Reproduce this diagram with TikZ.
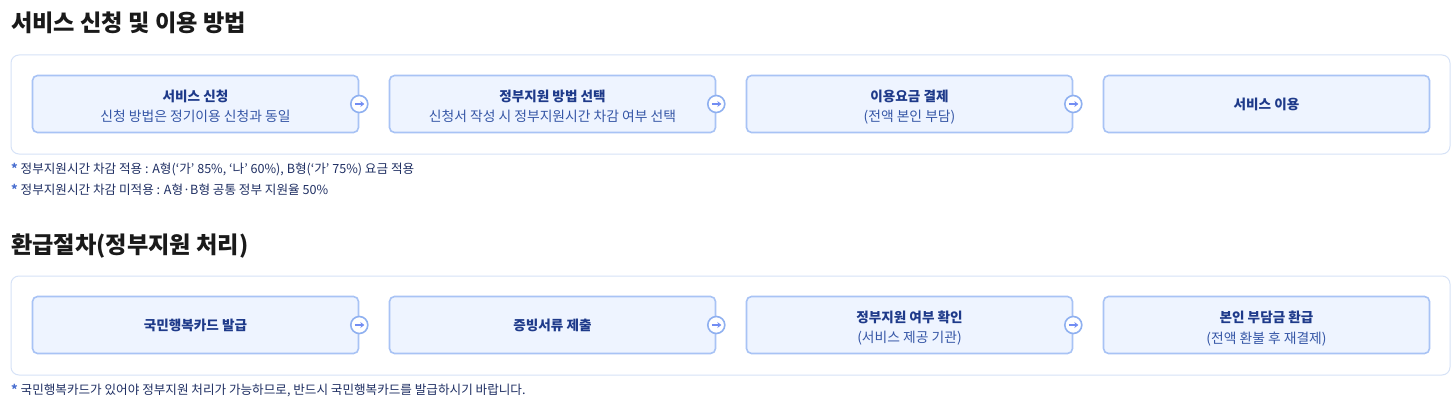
\documentclass[tikz,border=0pt]{standalone}
\usepackage{fontspec}
\setmainfont{Noto Sans CJK KR}
\usetikzlibrary{arrows.meta}
\definecolor{titlec}{HTML}{1A1A1A}
\definecolor{outerc}{HTML}{D6E2F7}
\definecolor{boxfill}{HTML}{EEF4FF}
\definecolor{boxline}{HTML}{A8C3F5}
\definecolor{navy}{HTML}{1E3A8A}
\definecolor{subc}{HTML}{3556A6}
\definecolor{notec}{HTML}{1F2F63}
\definecolor{starc}{HTML}{4A6FD0}
\definecolor{circc}{HTML}{8FB0F0}
\tikzset{
  outerbox/.style={draw=outerc, line width=1pt, rounded corners=8pt, fill=white},
  stepbox/.style={draw=boxline, line width=1.6pt, rounded corners=5pt, fill=boxfill, minimum width=326pt, minimum height=57pt, inner sep=0pt, align=center},
  heading/.style={font=\fontsize{23.2}{26}\selectfont\bfseries, text=titlec, anchor=base west, inner sep=0pt},
  note/.style={font=\fontsize{12.6}{14}\selectfont, text=notec, anchor=base west, inner sep=0pt},
  circ/.style={circle, draw=circc, line width=1.6pt, fill=white, minimum size=17pt, inner sep=0pt},
  arr/.style={draw=circc!80!blue, line width=1.8pt, -{Stealth[length=4pt,width=6pt]}}
}
\newcommand{\mystar}{\textcolor{starc}{\textbf{*}}}
\newcommand{\bt}[1]{{\fontsize{13.6}{16}\selectfont\bfseries\color{navy}#1}}
\newcommand{\st}[1]{{\fontsize{13.8}{16}\selectfont\color{subc}#1}}
\newcommand{\two}[2]{\raisebox{0pt}[\dimexpr\height+8pt\relax]{\begin{tabular}{c}\bt{#1}\\[5pt]\st{#2}\end{tabular}}}
\begin{document}
\begin{tikzpicture}[x=1pt,y=-1pt]
\useasboundingbox (0,0) rectangle (1456,401);
\fill[white] (0,0) rectangle (1456,401);
% heading 1
\node[heading] (h1) at (11,32) {서비스 신청 및 이용 방법};
\draw[outerbox] (11,55) rectangle (1450,154);
\node[stepbox] (a1) at (195.5,104) {\two{서비스 신청}{신청 방법은 정기이용 신청과 동일}};
\node[stepbox] (a2) at (552.5,104) {\two{정부지원 방법 선택}{신청서 작성 시 정부지원시간 차감 여부 선택}};
\node[stepbox] (a3) at (909.5,104) {\two{이용요금 결제}{(전액 본인 부담)}};
\node[stepbox] (a4) at (1266.5,104) {\bt{서비스 이용}};
\foreach \i in {1,2,3}{
  \node[circ] (c\i) at (a\i.east) {};
  \draw[arr] ([xshift=-4.5pt]c\i.center) -- ([xshift=5pt]c\i.center);
}
\node[note] (n1) at (11,173) {\mystar\ 정부지원시간 차감 적용 : A형(‘가’ 85\%, ‘나’ 60\%), B형(‘가’ 75\%) 요금 적용};
\node[note] (n2) at (11,194) {\mystar\ 정부지원시간 차감 미적용 : A형·B형 공통 정부 지원율 50\%};
% heading 2
\node[heading] (h2) at (11,253) {환급절차(정부지원 처리)};
\draw[outerbox] (11,276) rectangle (1450,375);
\node[stepbox] (b1) at (195.5,325) {\bt{국민행복카드 발급}};
\node[stepbox] (b2) at (552.5,325) {\bt{증빙서류 제출}};
\node[stepbox] (b3) at (909.5,325) {\two{정부지원 여부 확인}{(서비스 제공 기관)}};
\node[stepbox] (b4) at (1266.5,325) {\two{본인 부담금 환급}{(전액 환불 후 재결제)}};
\foreach \i in {1,2,3}{
  \node[circ] (d\i) at (b\i.east) {};
  \draw[arr] ([xshift=-4.5pt]d\i.center) -- ([xshift=5pt]d\i.center);
}
\node[note] (n3) at (11,394) {\mystar\ 국민행복카드가 있어야 정부지원 처리가 가능하므로, 반드시 국민행복카드를 발급하시기 바랍니다.};
\end{tikzpicture}
\end{document}
